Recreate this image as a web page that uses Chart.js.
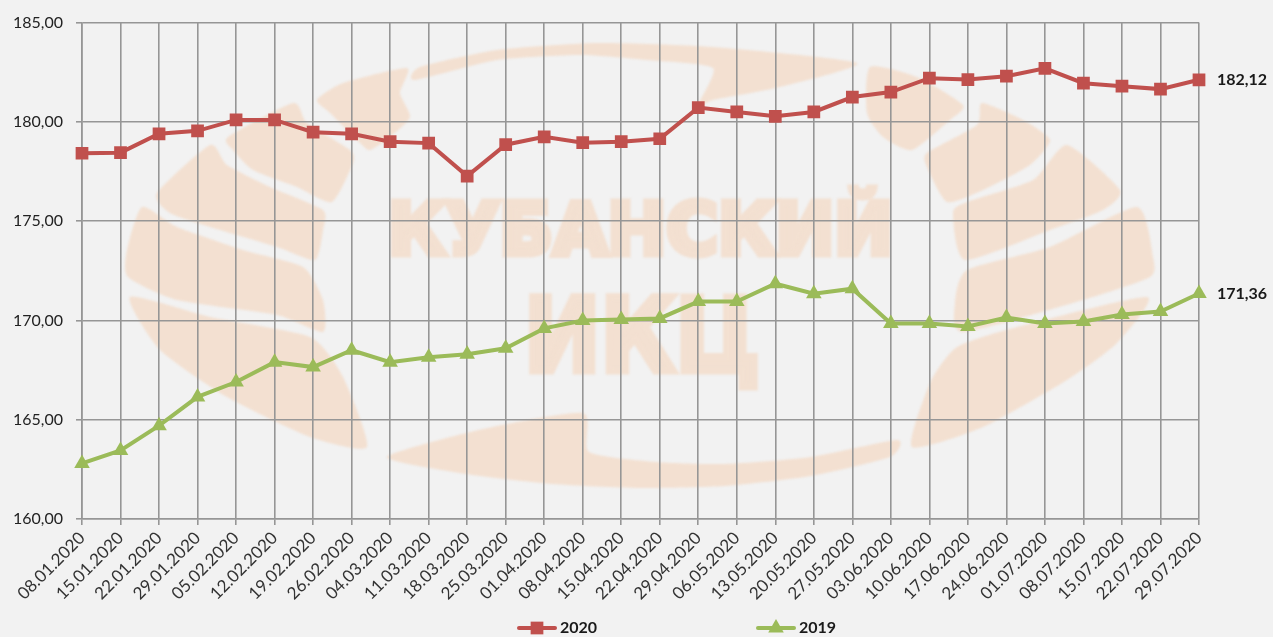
<!DOCTYPE html>
<html>
<head>
<meta charset="utf-8">
<style>
html, body { margin: 0; padding: 0; background: #f2f2f2; }
#wrap { width: 1273px; height: 637px; }
</style>
<script src="https://cdn.jsdelivr.net/npm/chart.js@4/dist/chart.umd.min.js"></script>
</head>
<body>
<div id="wrap"><canvas id="priceChart"></canvas></div>
<script>
const dates = ["08.01.2020","15.01.2020","22.01.2020","29.01.2020","05.02.2020","12.02.2020","19.02.2020","26.02.2020",
    "04.03.2020","11.03.2020","18.03.2020","25.03.2020","01.04.2020","08.04.2020","15.04.2020","22.04.2020",
    "29.04.2020","06.05.2020","13.05.2020","20.05.2020","27.05.2020","03.06.2020","10.06.2020","17.06.2020",
    "24.06.2020","01.07.2020","08.07.2020","15.07.2020","22.07.2020","29.07.2020"];
const values2020 = [178.42,178.45,179.4,179.55,180.1,180.1,179.48,179.4,179.0,178.93,177.27,178.85,179.25,178.95,179.0,
    179.15,180.72,180.5,180.28,180.5,181.25,181.5,182.2,182.13,182.3,182.7,181.95,181.8,181.65,182.12];
const values2019 = [162.8,163.45,164.7,166.15,166.9,167.9,167.65,168.5,167.9,168.15,168.3,168.6,169.6,170.0,170.05,
    170.1,170.95,170.95,171.85,171.35,171.6,169.85,169.85,169.7,170.15,169.85,169.95,170.3,170.45,171.36];
const yTicks = ["160,00","165,00","170,00","175,00","180,00","185,00"];

const RED = "#c0504d";
const GREEN = "#9bbb59";
const GRID = "#969696";
const WATERMARK = "#f3e0d1";

// background logo, traced by eye
const logoShapes = [
    [[317,100],[343,83],[407,68],[400,93],[410,117],[390,137],[370,150],[360,143],[330,113]],
    [[228,137],[293,103],[307,123],[350,150],[353,163],[332,202],[297,187],[253,170],[233,150]],
    [[157,193],[210,145],[227,165],[270,187],[323,210],[323,230],[315,260],[277,247],[210,227],[170,213]],
    [[142,207],[177,227],[243,250],[303,267],[323,300],[323,332],[277,315],[177,300],[128,277],[127,250]],
    [[130,297],[210,317],[310,337],[343,377],[367,447],[310,437],[227,397],[160,350]],
    [[870,67],[917,77],[963,105],[950,120],[912,150],[883,137],[867,113]],
    [[982,103],[1023,120],[1050,140],[1030,165],[983,190],[947,202],[927,167],[927,153],[977,125]],
    [[1067,145],[1120,190],[1103,210],[1050,230],[965,260],[953,213],[967,202],[1033,180]],
    [[1137,207],[1153,257],[1150,277],[1083,300],[963,332],[955,303],[967,270],[1050,247]],
    [[1147,297],[1117,343],[1067,380],[983,427],[912,447],[930,383],[957,347],[1017,327]],
    [[415,80],[420,67],[497,50],[597,43],[713,47],[857,63],[780,87],[713,100],[697,107],[713,68],[647,60],[580,55],[497,60]],
    [[387,457],[483,429],[583,413],[589,452],[656,462],[725,464],[811,457],[897,440],[890,457],[811,476],[725,486],[639,488],[552,484],[466,474]]
];

// closed curve through the traced points, kept tight so the tips stay pointed
function drawBlob(ctx, pts) {
    const n = pts.length, k = 0.1;
    ctx.beginPath();
    ctx.moveTo(pts[0][0], pts[0][1]);
    for (let i = 0; i < n; i++) {
        const p0 = pts[(i + n - 1) % n], p1 = pts[i], p2 = pts[(i + 1) % n], p3 = pts[(i + 2) % n];
        ctx.bezierCurveTo(p1[0] + (p2[0] - p0[0]) * k, p1[1] + (p2[1] - p0[1]) * k,
            p2[0] - (p3[0] - p1[0]) * k, p2[1] - (p3[1] - p1[1]) * k, p2[0], p2[1]);
    }
    ctx.closePath();
    ctx.fill();
}

function fitText(ctx, str, x, baseline, width, px) {
    ctx.font = "bold " + px + "px 'DejaVu Sans'";
    const w = ctx.measureText(str).width;
    ctx.save();
    ctx.translate(x, baseline);
    ctx.scale(width / w, 1);
    ctx.fillText(str, 0, 0);
    ctx.strokeText(str, 0, 0);
    ctx.restore();
}

const watermark = {
    id: "watermark",
    beforeDraw(chart) {
        const ctx = chart.ctx;
        ctx.save();
        ctx.fillStyle = "#f2f2f2";
        ctx.fillRect(0, 0, chart.width, chart.height);
        ctx.filter = "blur(1px)";
        ctx.fillStyle = WATERMARK;
        ctx.strokeStyle = WATERMARK;
        ctx.lineWidth = 7;
        ctx.lineJoin = "miter";
        ctx.textAlign = "left";
        ctx.textBaseline = "alphabetic";
        logoShapes.forEach(s => drawBlob(ctx, s));
        fitText(ctx, "КУБАНСКИЙ", 388, 254, 505, 72);
        fitText(ctx, "ИКЦ", 524, 371, 236, 102);
        ctx.restore();
    }
};

// value at the end of each line, and the legend row under the axis
const extras = {
    id: "extras",
    afterDatasetsDraw(chart) {
        const ctx = chart.ctx;
        ctx.save();
        ctx.fillStyle = "#1a1a1a";
        ctx.font = "bold 16px Lato";
        ctx.textAlign = "left";
        ctx.textBaseline = "middle";
        chart.data.datasets.forEach((ds, i) => {
            const pts = chart.getDatasetMeta(i).data;
            const last = pts[pts.length - 1];
            const val = ds.data[ds.data.length - 1];
            ctx.fillText(val.toFixed(2).replace(".", ","), last.x + 18, last.y);
        });
        const legendX = [517, 756];
        chart.data.datasets.forEach((ds, i) => {
            const x = legendX[i], y = 628;
            ctx.strokeStyle = ds.borderColor;
            ctx.lineWidth = 4;
            ctx.lineCap = "round";
            ctx.beginPath();
            ctx.moveTo(x + 2, y);
            ctx.lineTo(x + 38, y);
            ctx.stroke();
            ctx.fillStyle = ds.borderColor;
            Chart.helpers.drawPoint(ctx, { pointStyle: ds.pointStyle, radius: ds.pointRadius, borderWidth: 0 }, x + 20, y);
            ctx.fillStyle = "#1a1a1a";
            ctx.font = "bold 16px Lato";
            ctx.fillText(ds.label, x + 43, y);
        });
        ctx.restore();
    }
};

new Chart(document.getElementById("priceChart"), {
    type: "line",
    plugins: [watermark, extras],
    data: {
        labels: dates,
        datasets: [
            { label: "2020", data: values2020, borderColor: RED, backgroundColor: RED, borderWidth: 4,
              pointStyle: "rect", pointRadius: 9, pointBorderWidth: 0, tension: 0, fill: false },
            { label: "2019", data: values2019, borderColor: GREEN, backgroundColor: GREEN, borderWidth: 4,
              pointStyle: "triangle", pointRadius: 9, pointBorderWidth: 0, tension: 0, fill: false }
        ]
    },
    options: {
        responsive: true,
        maintainAspectRatio: false,
        animation: false,
        layout: { padding: { top: 21, right: 74, left: 0, bottom: 0 } },
        plugins: { legend: { display: false }, tooltip: { enabled: false } },
        scales: {
            x: {
                afterFit(scale) { scale.height = 118; },
                grid: { color: GRID, lineWidth: 1.6, tickLength: 6, tickColor: GRID, drawTicks: true },
                border: { color: GRID, width: 1.6 },
                ticks: {
                    color: "#333",
                    font: { family: "Lato", size: 17 },
                    minRotation: 45,
                    maxRotation: 45,
                    autoSkip: false,
                    padding: 3
                }
            },
            y: {
                min: 160,
                max: 185,
                afterFit(scale) { scale.width = 82; },
                grid: { color: GRID, lineWidth: 1.6, tickLength: 6, tickColor: GRID },
                border: { color: GRID, width: 1.6 },
                ticks: {
                    stepSize: 5,
                    color: "#222",
                    font: { family: "Lato", size: 16 },
                    padding: 13,
                    callback: (v, i) => yTicks[i]
                }
            }
        }
    }
});
</script>
</body>
</html>
